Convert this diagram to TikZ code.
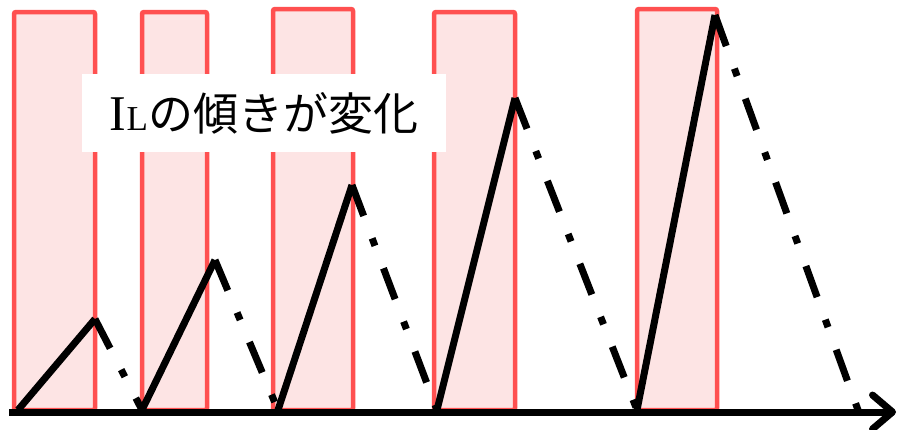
\documentclass[tikz,border=0pt]{standalone}
\usepackage{fontspec}
\setmainfont{Liberation Serif}
\newfontfamily\jpfont{Noto Sans CJK JP}
\usetikzlibrary{arrows.meta}

\definecolor{pulsered}{RGB}{255,80,80}
\definecolor{pulsefill}{RGB}{253,228,228}

\begin{document}
\begin{tikzpicture}[
  x=1pt, y=-1pt,
  pulse/.style={draw=pulsered, fill=pulsefill, line width=4.5pt, rounded corners=2pt},
  rise/.style={line width=7pt},
  fall/.style={line width=7pt, dash pattern=on 33pt off 24pt on 8pt off 24pt},
  axis/.style={line width=7pt, -{Straight Barb[length=20pt, width=34pt, round]}},
  caption/.style={fill=white, inner sep=0pt, minimum width=364pt, minimum height=78pt},
]
  \useasboundingbox (0,0) rectangle (900,429);

  % gate pulses (left, right, top)
  \foreach \l/\r/\t in {14/95/12, 142/207/12, 273/353/9, 434/515/12, 637/717/9}
    \draw[pulse] (\l,410) rectangle (\r,\t);

  % label
  \node[caption] (lbl) at (264,113)
    {{\fontsize{50}{50}\selectfont I}{\fontsize{35}{35}\selectfont L}%
     {\jpfont\fontsize{45}{45}\selectfont の傾きが変化}};

  % valleys and peaks of the inductor current
  \coordinate (v1) at (18,410);  \coordinate (p1) at (95,319);
  \coordinate (v2) at (142,410); \coordinate (p2) at (215,260);
  \coordinate (v3) at (278,410); \coordinate (p3) at (352,185);
  \coordinate (v4) at (437,410); \coordinate (p4) at (515,98);
  \coordinate (v5) at (637,410); \coordinate (p5) at (715,15);
  \coordinate (v6) at (858,410);

  \draw[rise] (v1) -- (p1);
  \draw[rise] (v2) -- (p2);
  \draw[rise] (v3) -- (p3);
  \draw[rise] (v4) -- (p4);
  \draw[rise] (v5) -- (p5);

  \draw[fall] (p1) -- (v2);
  \draw[fall] (p2) -- (v3);
  \draw[fall] (p3) -- (v4);
  \draw[fall] (p4) -- (v5);
  \draw[fall] (p5) -- (v6);

  % time axis
  \coordinate (t0) at (9,412);
  \coordinate (t1) at (896,412);
  \draw[axis] (t0) -- (t1);
\end{tikzpicture}
\end{document}
